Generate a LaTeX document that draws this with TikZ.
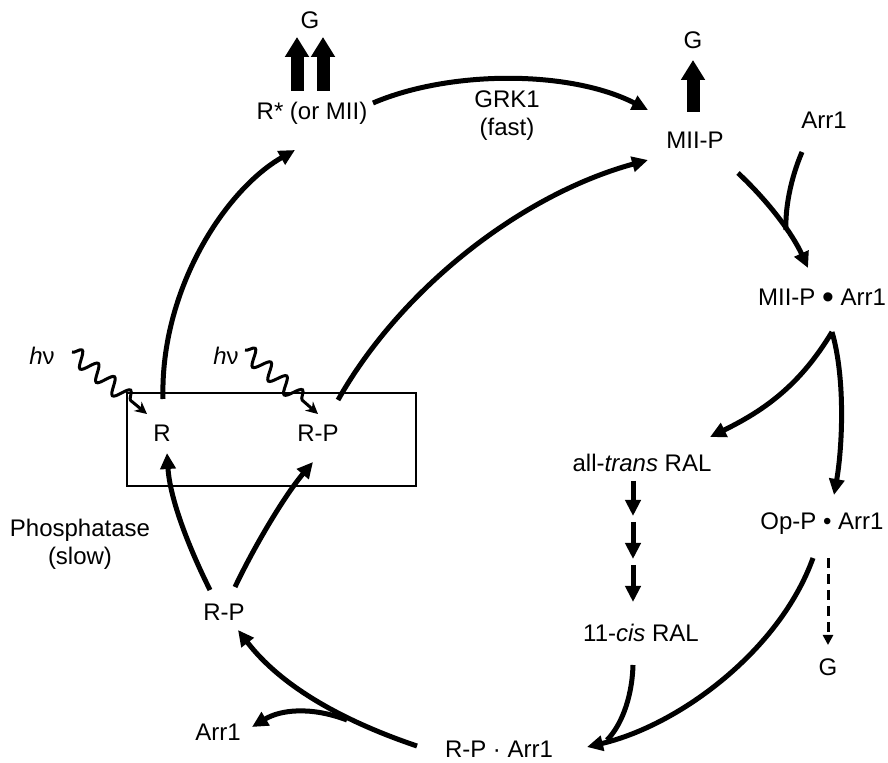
\documentclass[tikz,border=0pt]{standalone}
\usepackage{fontspec}
\setmainfont{Liberation Sans}
\usepackage{graphicx}
\usetikzlibrary{arrows.meta,decorations.pathmorphing,calc}
\begin{document}
\begin{tikzpicture}[x=0.5pt,y=-0.5pt,
 lbl/.style={inner sep=0pt, font=\fontsize{12}{14}\selectfont, align=center},
 arr/.style={line width=2.5pt, -{Triangle[length=8pt,width=7.5pt]}},
 plain/.style={line width=2.5pt},
 fat/.style={line width=6.5pt, -{Triangle[length=10pt,width=11.5pt]}},
 dasharr/.style={line width=1.5pt, dashed, dash pattern=on 5pt off 3pt, -{Triangle[length=5pt,width=5pt]}},
 wave/.style={line width=1.5pt, decorate, decoration={snake, amplitude=4pt, segment length=10.5pt, post length=7pt}, -{Stealth[length=6pt,width=6pt]}}]
\path[use as bounding box] (0,0) rectangle (888,763);

% nodes
\node[lbl] (Gl) at (310,20) {G};
\node[lbl] (Rs) at (312,113) {R* (or MII)};
\node[lbl] (Gr) at (693,40) {G};
\node[lbl] (MIIP) at (695,140) {MII-P};
\node[lbl] (GRK) at (507,116) {GRK1\\(fast)};
\node[lbl] (Arrt) at (824,120) {Arr1};
\node[lbl] (MA) at (822,299) {MII-P \raisebox{-0.13em}{\scalebox{1.4}{•}} Arr1};
\node[lbl] (atR) at (642,463) {all-\textit{trans} RAL};
\node[lbl] (cR) at (641,633) {11-\textit{cis} RAL};
\node[lbl] (OA) at (822,524) {Op-P • Arr1};
\node[lbl] (Gb) at (828,667) {G};
\node[lbl] (RA) at (499,749) {R-P · Arr1};
\node[lbl] (Ab) at (218,732) {Arr1};
\node[lbl] (RPl) at (224,612) {R-P};
\node[lbl] (Ph) at (80,544) {Phosphatase\\(slow)};
\node[lbl] (R) at (162,433) {R};
\node[lbl] (RPb) at (318,433) {R-P};
\node[lbl] (hl) at (42,356) {\textit{h}ν};
\node[lbl] (hr) at (226,356) {\textit{h}ν};

% box
\draw[line width=1pt] (127,393) rectangle (416,486);

% fat G arrows
\coordinate (f1s) at (297,91); \coordinate (f1e) at (297,37);
\coordinate (f2s) at (323,91); \coordinate (f2e) at (323,37);
\coordinate (f3s) at (693,112); \coordinate (f3e) at (693,60);
\draw[fat] (f1s) -- (f1e);
\draw[fat] (f2s) -- (f2e);
\draw[fat] (f3s) -- (f3e);

% endpoints
\coordinate (Rtop) at (163,399);
\coordinate (Rsin) at (295,150);
\coordinate (RPbtop) at (338,400);
\coordinate (MIIPin2) at (648,160);
\coordinate (Rsout) at (373,103);
\coordinate (MIIPin) at (648,110);
\coordinate (MIIPout) at (738,173);
\coordinate (MAin) at (808,268);
\coordinate (Arrout) at (802,152);
\coordinate (join1) at (786,230);
\coordinate (MAout) at (832,332);
\coordinate (atRin) at (710,437);
\coordinate (OAin) at (834,495);
\coordinate (OAout) at (813,558);
\coordinate (RAin) at (587,747);
\coordinate (cRout) at (633,665);
\coordinate (join2) at (607,740);
\coordinate (RAout) at (417,746);
\coordinate (RPlin) at (238,630);
\coordinate (br) at (347,720);
\coordinate (Abin) at (252,727);
\coordinate (RPlo1) at (210,590);
\coordinate (Rin) at (167,453);
\coordinate (RPlo2) at (235,587);
\coordinate (RPbin) at (313,462);
\coordinate (hls) at (72,352);
\coordinate (hle) at (147,414);
\coordinate (hrs) at (245,350);
\coordinate (hre) at (318,414);

% connectors
\draw[arr] (Rtop) .. controls (160,290) and (225,190) .. (Rsin);
\draw[arr] (RPbtop) .. controls (400,290) and (520,195) .. (MIIPin2);
\draw[arr] (Rsout) .. controls (450,70) and (570,70) .. (MIIPin);
\draw[arr] (MIIPout) .. controls (770,203) and (793,235) .. (MAin);
\draw[plain] (Arrout) .. controls (790,180) and (785,210) .. (join1);
\draw[arr] (MAout) .. controls (800,385) and (765,410) .. (atRin);
\draw[arr] (MAout) .. controls (846,380) and (842,450) .. (OAin);
\draw[arr] (OAout) .. controls (780,650) and (680,725) .. (RAin);
\draw[plain] (cRout) .. controls (632,700) and (620,727) .. (join2);
\draw[arr] (RAout) .. controls (340,720) and (280,685) .. (RPlin);
\draw[arr] (br) .. controls (310,706) and (280,710) .. (Abin);
\draw[arr] (RPlo1) .. controls (190,550) and (170,500) .. (Rin);
\draw[arr] (RPlo2) .. controls (255,545) and (285,495) .. (RPbin);

% retinal steps
\coordinate (s1a) at (633,481); \coordinate (s1b) at (633,516);
\coordinate (s2a) at (633,522); \coordinate (s2b) at (633,559);
\coordinate (s3a) at (633,565); \coordinate (s3b) at (633,602);
\draw[arr] (s1a) -- (s1b);
\draw[arr] (s2a) -- (s2b);
\draw[arr] (s3a) -- (s3b);

% dashed to G
\coordinate (dA) at (828,558); \coordinate (dB) at (828,645);
\draw[dasharr] (dA) -- (dB);

% light
\draw[wave] (hls) -- (hle);
\draw[wave] (hrs) -- (hre);
\end{tikzpicture}
\end{document}
